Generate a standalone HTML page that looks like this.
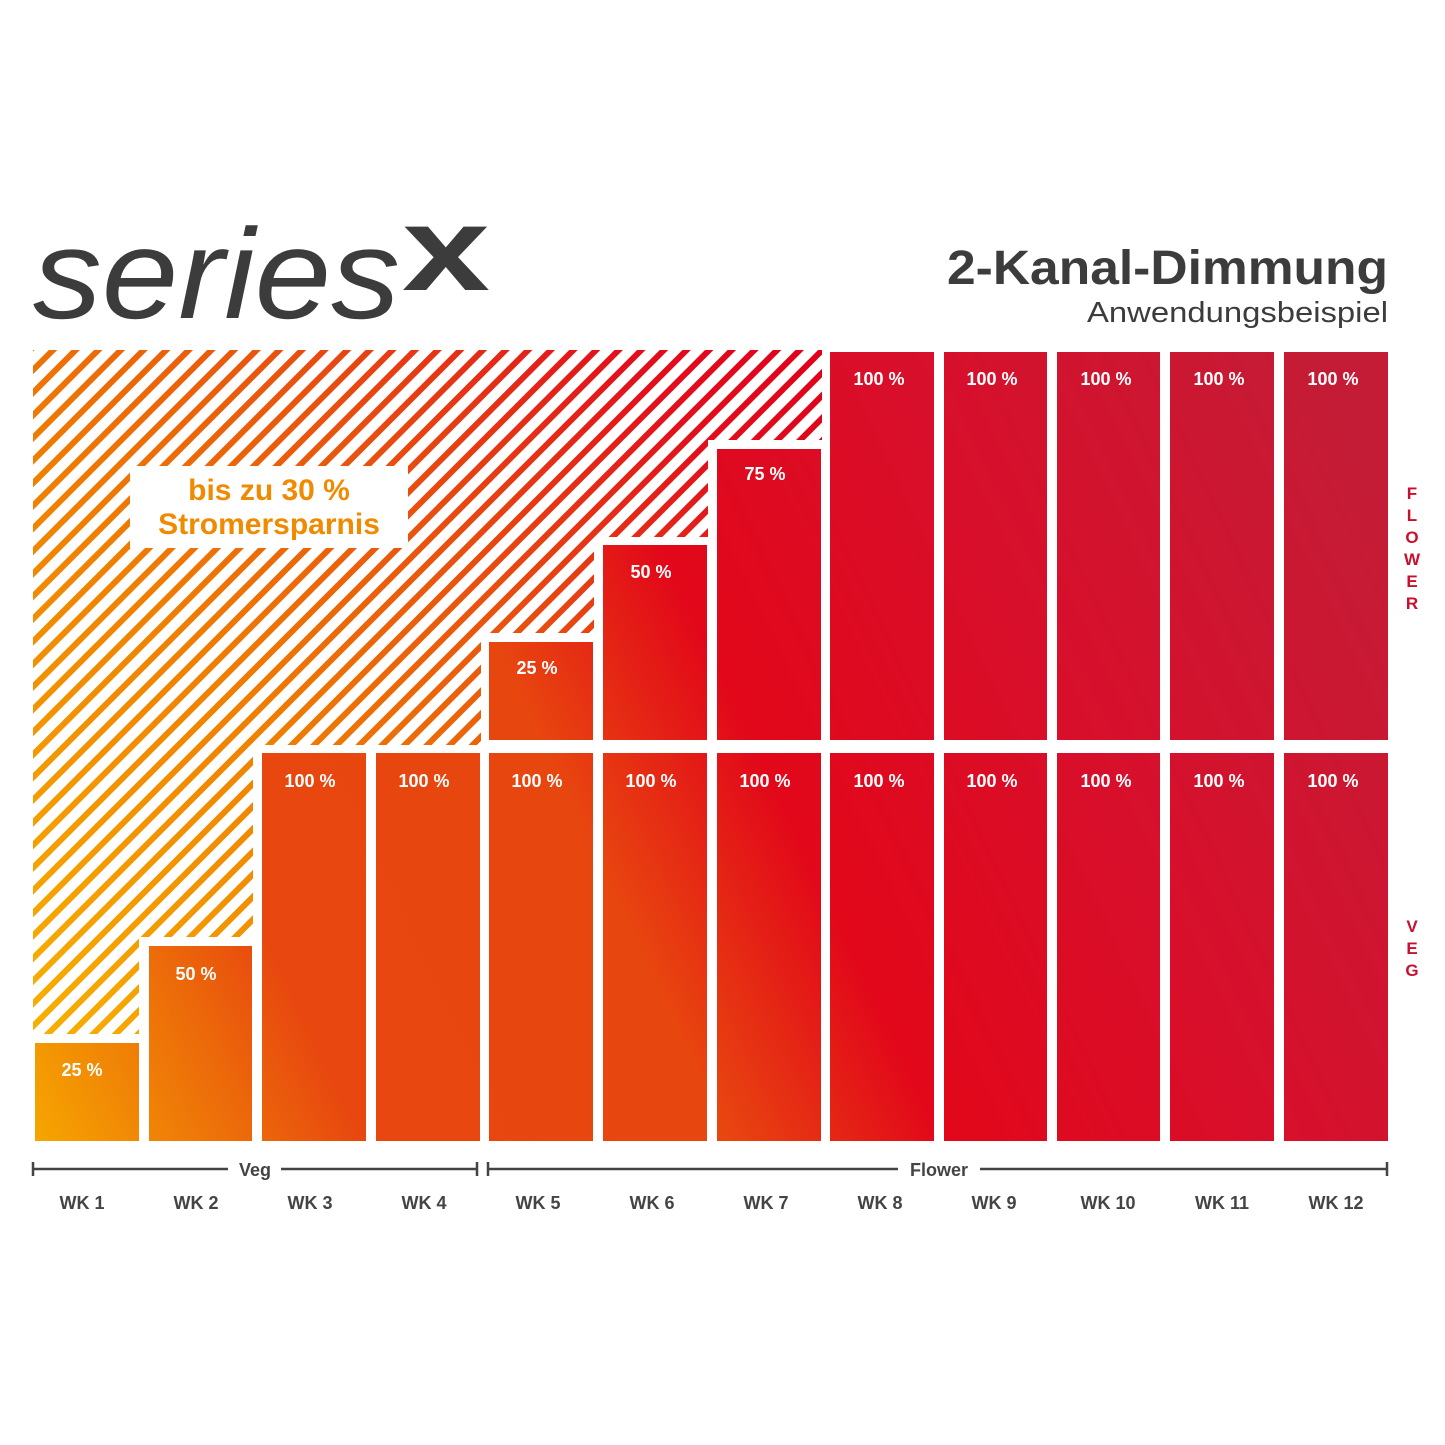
<!DOCTYPE html>
<html><head><meta charset="utf-8"><style>html,body{margin:0;padding:0;background:#fff}svg{display:block}</style></head>
<body>
<svg width="1445" height="1445" viewBox="0 0 1445 1445" xmlns="http://www.w3.org/2000/svg" font-family="'Liberation Sans', sans-serif">
<defs>
<linearGradient id="g" gradientUnits="userSpaceOnUse" x1="33" y1="1034" x2="822" y2="350">
<stop offset="0" stop-color="#f7b000"/>
<stop offset="0.35" stop-color="#f08000"/>
<stop offset="0.6" stop-color="#e9520e"/>
<stop offset="0.85" stop-color="#e2101c"/>
<stop offset="1" stop-color="#e0001a"/>
</linearGradient>
<linearGradient id="b" gradientUnits="userSpaceOnUse" x1="33" y1="1141" x2="1388" y2="500">
<stop offset="0" stop-color="#f6a600"/>
<stop offset="0.13" stop-color="#ec6a0a"/>
<stop offset="0.2" stop-color="#e8470f"/>
<stop offset="0.42" stop-color="#e8460f"/>
<stop offset="0.55" stop-color="#e2071a"/>
<stop offset="0.75" stop-color="#d80f2b"/>
<stop offset="1" stop-color="#c41c36"/>
</linearGradient>
<pattern id="h" patternUnits="userSpaceOnUse" width="16" height="16" patternTransform="rotate(45)">
<rect x="0" y="0" width="10" height="16" fill="#fff"/>
</pattern>
</defs>
<text x="33" y="318" font-size="128" fill="#3c3c3c" font-style="oblique" textLength="367" lengthAdjust="spacingAndGlyphs">series</text>
<text x="402" y="290" font-size="120" font-weight="bold" fill="#3c3c3c" textLength="88" lengthAdjust="spacingAndGlyphs">x</text>
<text x="1388" y="284" font-size="48" font-weight="bold" fill="#3c3c3c" text-anchor="end" textLength="441" lengthAdjust="spacingAndGlyphs">2-Kanal-Dimmung</text>
<text x="1388" y="322" font-size="29" fill="#3c3c3c" text-anchor="end" textLength="301" lengthAdjust="spacingAndGlyphs">Anwendungsbeispiel</text>
<polygon points="33,350 822,350 822,440 708,440 708,537 594,537 594,633 481,633 481,745 253,745 253,937 139,937 139,1034 33,1034" fill="url(#g)"/>
<polygon points="33,350 822,350 822,440 708,440 708,537 594,537 594,633 481,633 481,745 253,745 253,937 139,937 139,1034 33,1034" fill="url(#h)"/>
<rect x="130" y="466" width="278" height="82" fill="#fff"/>
<text x="269" y="500" font-size="30" font-weight="bold" fill="#f08a00" text-anchor="middle">bis zu 30 %</text>
<text x="269" y="534" font-size="30" font-weight="bold" fill="#f08a00" text-anchor="middle">Stromersparnis</text>
<g fill="url(#b)">
<rect x="35" y="1043" width="104" height="98"/>
<rect x="149" y="946" width="103" height="195"/>
<rect x="262" y="753" width="104" height="388"/>
<rect x="376" y="753" width="104" height="388"/>
<rect x="489" y="753" width="104" height="388"/>
<rect x="603" y="753" width="104" height="388"/>
<rect x="717" y="753" width="104" height="388"/>
<rect x="830" y="753" width="104" height="388"/>
<rect x="944" y="753" width="103" height="388"/>
<rect x="1057" y="753" width="103" height="388"/>
<rect x="1170" y="753" width="104" height="388"/>
<rect x="1284" y="753" width="104" height="388"/>
<rect x="489" y="642" width="104" height="98"/>
<rect x="603" y="545" width="104" height="195"/>
<rect x="717" y="449" width="104" height="291"/>
<rect x="830" y="352" width="104" height="388"/>
<rect x="944" y="352" width="103" height="388"/>
<rect x="1057" y="352" width="103" height="388"/>
<rect x="1170" y="352" width="104" height="388"/>
<rect x="1284" y="352" width="104" height="388"/>
</g>
<g font-size="18" font-weight="bold" fill="#fff" text-anchor="middle">
<text x="82" y="1076">25 %</text>
<text x="196" y="980">50 %</text>
<text x="310" y="787">100 %</text><text x="424" y="787">100 %</text><text x="537" y="787">100 %</text><text x="651" y="787">100 %</text><text x="765" y="787">100 %</text><text x="879" y="787">100 %</text><text x="992" y="787">100 %</text><text x="1106" y="787">100 %</text><text x="1219" y="787">100 %</text><text x="1333" y="787">100 %</text>
<text x="537" y="674">25 %</text>
<text x="651" y="578">50 %</text>
<text x="765" y="480">75 %</text>
<text x="879" y="385">100 %</text><text x="992" y="385">100 %</text><text x="1106" y="385">100 %</text><text x="1219" y="385">100 %</text><text x="1333" y="385">100 %</text>
</g>
<g stroke="#444" stroke-width="2.5">
<line x1="33" y1="1169" x2="228" y2="1169"/><line x1="281" y1="1169" x2="477" y2="1169"/>
<line x1="33" y1="1162" x2="33" y2="1176"/><line x1="477" y1="1162" x2="477" y2="1176"/>
<line x1="488" y1="1169" x2="898" y2="1169"/><line x1="980" y1="1169" x2="1387" y2="1169"/>
<line x1="488" y1="1162" x2="488" y2="1176"/><line x1="1387" y1="1162" x2="1387" y2="1176"/>
</g>
<g font-size="18" font-weight="bold" fill="#444" text-anchor="middle">
<text x="255" y="1176">Veg</text>
<text x="939" y="1176">Flower</text>
<text x="82" y="1209">WK 1</text><text x="196" y="1209">WK 2</text><text x="310" y="1209">WK 3</text><text x="424" y="1209">WK 4</text><text x="538" y="1209">WK 5</text><text x="652" y="1209">WK 6</text><text x="766" y="1209">WK 7</text><text x="880" y="1209">WK 8</text><text x="994" y="1209">WK 9</text><text x="1108" y="1209">WK 10</text><text x="1222" y="1209">WK 11</text><text x="1336" y="1209">WK 12</text>
</g>
<g font-size="17" font-weight="bold" fill="#c8102e" text-anchor="middle">
<text x="1412" y="499">F</text><text x="1412" y="521">L</text><text x="1412" y="543">O</text><text x="1412" y="565">W</text><text x="1412" y="587">E</text><text x="1412" y="609">R</text>
<text x="1412" y="932">V</text><text x="1412" y="954">E</text><text x="1412" y="976">G</text>
</g>
</svg>
</body></html>
